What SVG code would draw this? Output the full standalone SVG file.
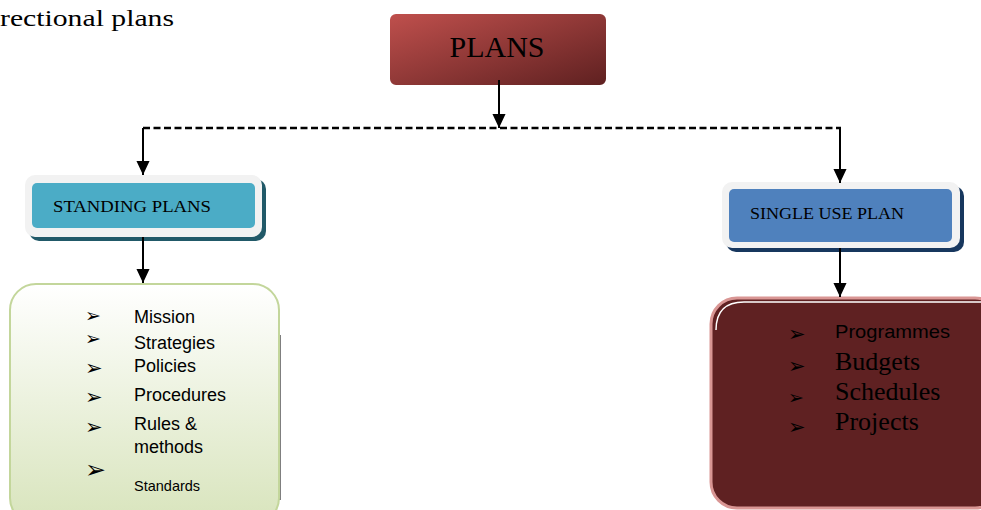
<svg xmlns="http://www.w3.org/2000/svg" width="981" height="510" viewBox="0 0 981 510">
<defs>
<style>
.conn{stroke:#000;stroke-width:2;fill:none}
.dash{stroke:#000;stroke-width:2.5;fill:none;stroke-dasharray:7 3.5}
.serif{font-family:"Liberation Serif","Times New Roman",serif;fill:#000}
.sans{font-family:"Liberation Sans",Arial,sans-serif;fill:#000}
.bul{font-family:"DejaVu Sans",sans-serif;fill:#000;font-size:21px}
</style>
<marker id="ah" markerUnits="userSpaceOnUse" markerWidth="14" markerHeight="14" refX="15" refY="7" orient="auto" viewBox="0 0 15 14">
<path d="M0,0 L15,7 L0,14 z" fill="#000"/>
</marker>
<linearGradient id="gRed" x1="0" y1="0" x2="1" y2="1">
<stop offset="0" stop-color="#c0504d"/>
<stop offset="1" stop-color="#5e2020"/>
</linearGradient>
<linearGradient id="gGreen" x1="0" y1="0" x2="0" y2="1">
<stop offset="0" stop-color="#ffffff"/>
<stop offset="1" stop-color="#d8e4bc"/>
</linearGradient>
</defs>
<rect width="981" height="510" fill="#fff"/>

<text class="serif" x="0" y="26" font-size="24" textLength="174" lengthAdjust="spacingAndGlyphs">rectional plans</text>

<g id="plans">
<rect x="389" y="13" width="218" height="73" rx="7" fill="url(#gRed)" stroke="#fff" stroke-width="2"/>
<text class="serif" x="497" y="57" font-size="30" text-anchor="middle">PLANS</text>
</g>

<g id="standing-plans">
<rect x="29" y="179" width="237" height="62" rx="10" fill="#215968"/>
<rect x="25" y="175" width="237" height="62" rx="10" fill="#f2f2f2"/>
<rect x="32" y="183" width="223" height="45" rx="5" fill="#4bacc6"/>
<text class="serif" x="53" y="212" font-size="17.5" textLength="158" lengthAdjust="spacingAndGlyphs">STANDING PLANS</text>
</g>

<g id="single-use-plan">
<rect x="726" y="186" width="238" height="66" rx="10" fill="#17375e"/>
<rect x="722" y="182" width="238" height="66" rx="10" fill="#f2f2f2"/>
<rect x="729" y="189" width="223" height="53" rx="5" fill="#4f81bd"/>
<text class="serif" x="750" y="219" font-size="17.5" textLength="154" lengthAdjust="spacingAndGlyphs">SINGLE USE PLAN</text>
</g>

<g id="standing-list">
<line x1="280" y1="335" x2="280" y2="500" stroke="#7f7f7f" stroke-width="2"/>
<rect x="10" y="284" width="269" height="240" rx="26" fill="url(#gGreen)" stroke="#c3d69b" stroke-width="2"/>
<text class="bul" x="85" y="322" style="font-size:19px">➢</text>
<text class="sans" x="134" y="323" font-size="18">Mission</text>
<text class="bul" x="85" y="345" style="font-size:19px">➢</text>
<text class="sans" x="134" y="349" font-size="18">Strategies</text>
<text class="bul" x="85" y="375">➢</text>
<text class="sans" x="134" y="372" font-size="18">Policies</text>
<text class="bul" x="85" y="404">➢</text>
<text class="sans" x="134" y="401" font-size="18">Procedures</text>
<text class="bul" x="85" y="434">➢</text>
<text class="sans" x="134" y="430" font-size="18">Rules &amp;</text>
<text class="sans" x="134" y="453" font-size="18">methods</text>
<text class="bul" x="85" y="478" style="font-size:25px">➢</text>
<text class="sans" x="134" y="491" font-size="14.5">Standards</text>
</g>

<g id="single-list">
<rect x="711" y="298" width="290" height="210" rx="26" fill="#5f2122" stroke="#d99694" stroke-width="3"/>
<path d="M716,330 Q716,302 744,302 L990,302" fill="none" stroke="#fff" stroke-width="1.5"/>
<text class="bul" x="788" y="341">➢</text>
<text class="sans" x="835" y="338" font-size="19" textLength="115" lengthAdjust="spacingAndGlyphs">Programmes</text>
<text class="bul" x="788" y="373">➢</text>
<text class="serif" x="835" y="370" font-size="26">Budgets</text>
<text class="bul" x="788" y="404" style="font-size:19px">➢</text>
<text class="serif" x="835" y="400" font-size="26">Schedules</text>
<text class="bul" x="788" y="434">➢</text>
<text class="serif" x="835" y="430" font-size="26">Projects</text>
</g>

<g id="connectors">
<line class="conn" x1="499" y1="80" x2="499" y2="128" marker-end="url(#ah)"/>
<line class="dash" x1="143" y1="128" x2="841" y2="128"/>
<line class="conn" x1="143" y1="128" x2="143" y2="175" marker-end="url(#ah)"/>
<line class="conn" x1="840" y1="128" x2="840" y2="183" marker-end="url(#ah)"/>
<line class="conn" x1="143" y1="237" x2="143" y2="283" marker-end="url(#ah)"/>
<line class="conn" x1="840" y1="248" x2="840" y2="297" marker-end="url(#ah)"/>
</g>
</svg>
